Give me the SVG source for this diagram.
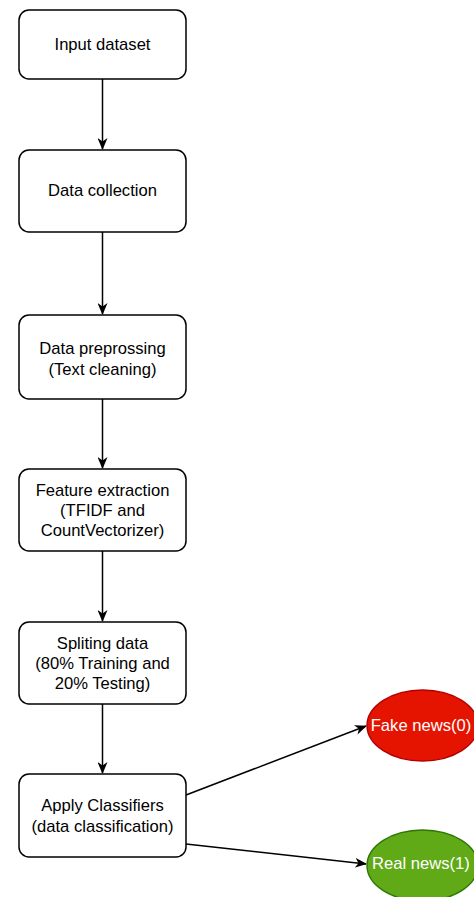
<svg xmlns="http://www.w3.org/2000/svg" width="474" height="897" viewBox="0 0 474 897">
<style>
.box{fill:#ffffff;stroke:#000000;stroke-width:1.5}
.t{font-family:"Liberation Sans",Arial,Helvetica,sans-serif;font-size:16.6px;fill:#000000;text-anchor:middle;dominant-baseline:central}
.w{fill:#ffffff}
.edge{fill:none;stroke:#000000;stroke-width:1.5}
</style>
<defs>
<marker id="arr" viewBox="0 0 12 10" refX="11" refY="5" markerWidth="12" markerHeight="10" markerUnits="userSpaceOnUse" orient="auto">
<path d="M0,0 L12,5 L0,10 L3.5,5 Z" fill="#000000"/>
</marker>
</defs>
<rect width="474" height="897" fill="#ffffff"/>
<g id="connectors">
<line class="edge" x1="102.5" y1="79" x2="102.5" y2="149" marker-end="url(#arr)"/>
<line class="edge" x1="102.5" y1="232" x2="102.5" y2="314" marker-end="url(#arr)"/>
<line class="edge" x1="102.5" y1="399" x2="102.5" y2="468" marker-end="url(#arr)"/>
<line class="edge" x1="102.5" y1="551" x2="102.5" y2="621" marker-end="url(#arr)"/>
<line class="edge" x1="102.5" y1="704" x2="102.5" y2="773" marker-end="url(#arr)"/>
<line class="edge" x1="186" y1="795" x2="366" y2="726" marker-end="url(#arr)"/>
<line class="edge" x1="186" y1="844" x2="366" y2="864" marker-end="url(#arr)"/>
</g>
<g id="n1">
<rect class="box" x="19" y="10" width="167" height="69" rx="10"/>
<text class="t" x="102.5" y="44.5">Input dataset</text>
</g>
<g id="n2">
<rect class="box" x="19" y="150" width="167" height="82" rx="10"/>
<text class="t" x="102.5" y="190.5">Data collection</text>
</g>
<g id="n3">
<rect class="box" x="19" y="315" width="167" height="84" rx="10"/>
<text class="t" x="102.5" y="348">Data preprossing</text>
<text class="t" x="102.5" y="369">(Text cleaning)</text>
</g>
<g id="n4">
<rect class="box" x="19" y="469" width="167" height="82" rx="10"/>
<text class="t" x="102.5" y="490">Feature extraction</text>
<text class="t" x="102.5" y="510">(TFIDF and</text>
<text class="t" x="102.5" y="530">CountVectorizer)</text>
</g>
<g id="n5">
<rect class="box" x="19" y="622" width="167" height="82" rx="10"/>
<text class="t" x="102.5" y="643">Spliting data</text>
<text class="t" x="102.5" y="663">(80% Training and</text>
<text class="t" x="102.5" y="683">20% Testing)</text>
</g>
<g id="n6">
<rect class="box" x="19" y="774" width="167" height="83" rx="10"/>
<text class="t" x="102.5" y="805">Apply Classifiers</text>
<text class="t" x="102.5" y="826">(data classification)</text>
</g>
<g id="fake">
<ellipse cx="422.5" cy="725.5" rx="55.5" ry="35.5" fill="#e51400" stroke="#b20000" stroke-width="1.4"/>
<text class="t w" x="421" y="725">Fake news(0)</text>
</g>
<g id="real">
<ellipse cx="422.5" cy="865.5" rx="55.5" ry="35.5" fill="#60a917" stroke="#2d7600" stroke-width="1.4"/>
<text class="t w" x="421" y="863">Real news(1)</text>
</g>
</svg>
